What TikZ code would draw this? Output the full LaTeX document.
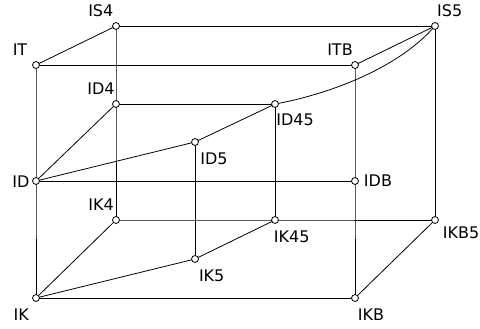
\documentclass[tikz,border=0pt]{standalone}
\usepackage{fontspec}
\setmainfont{DejaVu Sans}
\begin{document}
\begin{tikzpicture}[x=0.75pt,y=-0.75pt,
  vtx/.style={circle,draw=black,fill=white,line width=0.6pt,inner sep=0pt,minimum size=5.2pt},
  lbl/.style={inner sep=0pt,font=\fontsize{12}{14}\selectfont},
  edge/.style={draw=black,line width=0.6pt}]
\useasboundingbox (0,0) rectangle (480,329);

% vertices
\coordinate (IS4) at (116,26);
\coordinate (IS5) at (435,26);
\coordinate (IT)  at (36,65);
\coordinate (ITB) at (355,65);
\coordinate (ID4) at (116,104);
\coordinate (ID45) at (275,104);
\coordinate (ID5) at (195,142);
\coordinate (ID)  at (36,181);
\coordinate (IDB) at (355,181);
\coordinate (IK4) at (116,220);
\coordinate (IK45) at (275,220);
\coordinate (IKB5) at (435,220);
\coordinate (IK5) at (195,259);
\coordinate (IK)  at (36,298);
\coordinate (IKB) at (355,298);

% edges
\path[edge] (IS4) -- (IS5);
\path[edge] (IS4) -- (IT);
\path[edge] (IS5) -- (ITB);
\path[edge] (IT) -- (ITB);
\path[edge] (IT) -- (ID) -- (IK);
\path[edge] (IS4) -- (ID4) -- (IK4);
\path[edge] (ITB) -- (IDB) -- (IKB);
\path[edge] (IS5) -- (IKB5);
\path[edge] (IKB5) -- (IKB);
\path[edge] (IK) -- (IKB);
\path[edge] (IK4) -- (IK45) -- (IKB5);
\path[edge] (ID4) -- (ID45);
\path[edge] (ID45) -- (IK45);
\path[edge] (ID5) -- (IK5);
\path[edge] (ID) -- (IDB);
\path[edge] (ID) -- (ID4);
\path[edge] (ID) -- (ID5) -- (ID45);
\path[edge] (ID45) .. controls (320,96) and (395,72) .. (IS5);
\path[edge] (IK) -- (IK4);
\path[edge] (IK) -- (IK5) -- (IK45);

% vertex markers
\foreach \v in {IS4,IS5,IT,ITB,ID4,ID45,ID5,ID,IDB,IK4,IK45,IKB5,IK5,IK,IKB}
  \node[vtx] (\v-m) at (\v) {};

% labels
\node[lbl] (IS4-l) at (100.8,11) {IS4};
\node[lbl] (IS5-l) at (449.7,11) {IS5};
\node[lbl] (IT-l) at (20,50) {IT};
\node[lbl] (ITB-l) at (340,50) {ITB};
\node[lbl] (ID4-l) at (101,88.3) {ID4};
\node[lbl] (ID45-l) at (295,120) {ID45};
\node[lbl] (ID5-l) at (214,158.5) {ID5};
\node[lbl] (ID-l) at (21,181.5) {ID};
\node[lbl] (IDB-l) at (378,181) {IDB};
\node[lbl] (IK4-l) at (101,205) {IK4};
\node[lbl] (IK45-l) at (291.7,236.7) {IK45};
\node[lbl] (IKB5-l) at (461,232.5) {IKB5};
\node[lbl] (IK5-l) at (211.7,275.7) {IK5};
\node[lbl] (IK-l) at (21.3,314.3) {IK};
\node[lbl] (IKB-l) at (371,314.3) {IKB};
\end{tikzpicture}
\end{document}
